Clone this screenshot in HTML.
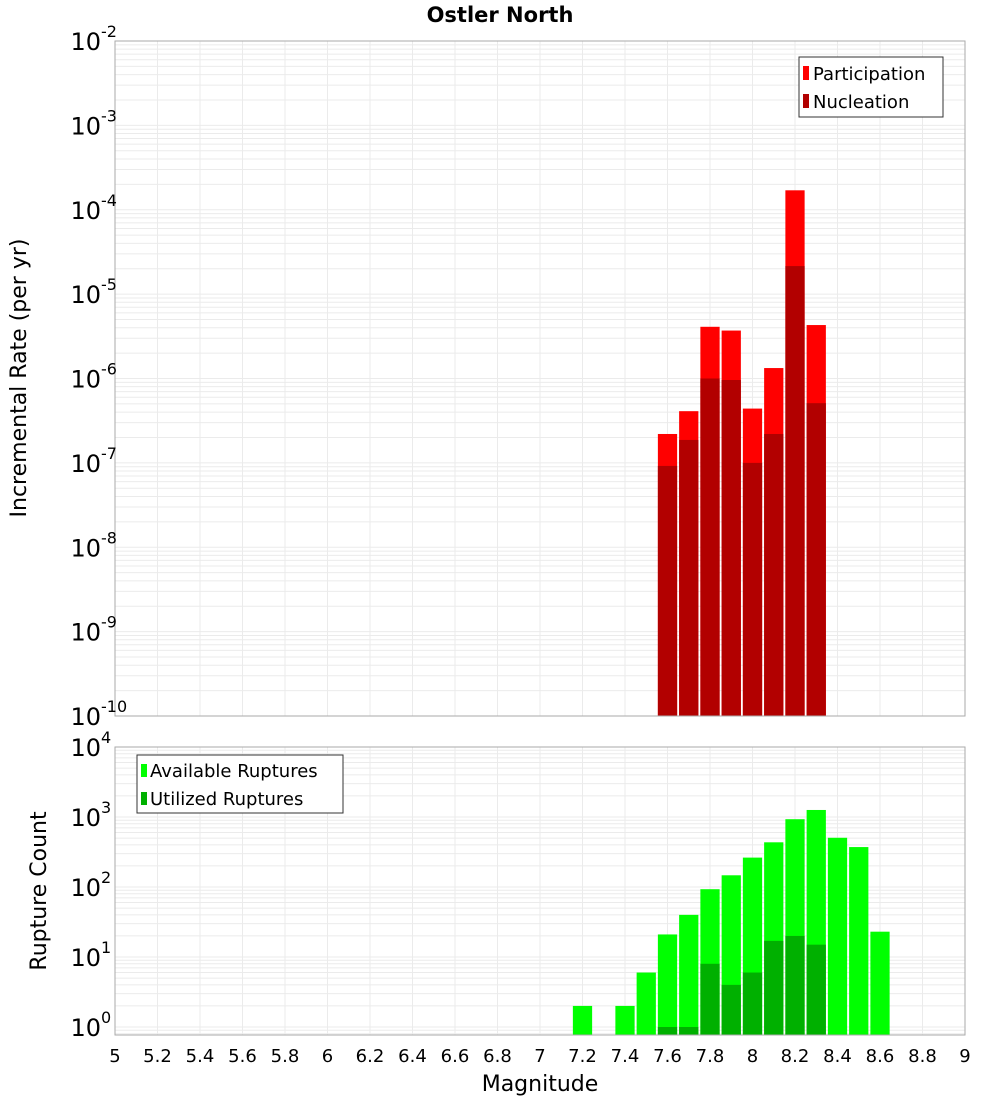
<!DOCTYPE html>
<html><head><meta charset="utf-8"><style>
body{margin:0;background:#fff;}
svg text{font-family:"DejaVu Sans","Liberation Sans",sans-serif;}
</style></head><body>
<svg id="c" width="1000" height="1100" xmlns="http://www.w3.org/2000/svg">
<text x="500" y="22" text-anchor="middle" font-size="21" font-weight="bold">Ostler North</text>
<g id="top"></g>
<g id="bot"></g>
<text transform="translate(26,378) rotate(-90)" text-anchor="middle" font-size="22">Incremental Rate (per yr)</text>
<text transform="translate(46,891) rotate(-90)" text-anchor="middle" font-size="22">Rupture Count</text>
<text x="540" y="1091" text-anchor="middle" font-size="22">Magnitude</text>
<g>
<rect x="799" y="57" width="144" height="60" fill="#fff" stroke="#333"/>
<rect x="803" y="66" width="6" height="14" fill="#ff0000"/>
<text x="813" y="80" font-size="18">Participation</text>
<rect x="803" y="94" width="6" height="14" fill="#b20000"/>
<text x="813" y="108" font-size="18">Nucleation</text>
</g>
<g>
<rect x="137" y="755" width="206" height="58" fill="#fff" stroke="#333"/>
<rect x="141" y="764" width="6" height="13" fill="#00ff00"/>
<text x="150" y="777" font-size="18">Available Ruptures</text>
<rect x="141" y="792" width="6" height="13" fill="#00b000"/>
<text x="150" y="805" font-size="18">Utilized Ruptures</text>
</g>
</svg>
<script>
const mags = [7.6,7.7,7.8,7.9,8.0,8.1,8.2,8.3];
const participation = [2.2e-7,4.1e-7,4.1e-6,3.7e-6,4.4e-7,1.33e-6,1.7e-4,4.3e-6];
const nucleation = [9.2e-8,1.87e-7,1.0e-6,9.6e-7,1.0e-7,2.2e-7,2.15e-5,5.1e-7];
const countMags = [7.2,7.4,7.5,7.6,7.7,7.8,7.9,8.0,8.1,8.2,8.3,8.4,8.5,8.6];
const available = [2,2,6,21,40,93,147,263,435,930,1260,505,372,23];
const utilized = [0,0,0,1,1,8,4,6,17,20,15,0,0,0];
const xTicks = [5,5.2,5.4,5.6,5.8,6,6.2,6.4,6.6,6.8,7,7.2,7.4,7.6,7.8,8,8.2,8.4,8.6,8.8,9];

const NS="http://www.w3.org/2000/svg";
const X0=115,X1=965;
const x=m=>X0+(m-5)/4*(X1-X0);
function mk(p,t,a){const e=document.createElementNS(NS,t);for(const k in a)e.setAttribute(k,a[k]);p.appendChild(e);return e;}
function panel(g,top,bottom,lmin,lmax,vals,cols,mg,ppd,name){
  const y=v=>top+(lmax-Math.log10(v))*ppd;
  mk(g,'rect',{x:X0,y:top,width:X1-X0,height:bottom-top,fill:'#fff'});
  for(let d=Math.floor(lmin);d<lmax;d++)for(let k=1;k<10;k++){const yy=y(k*Math.pow(10,d));if(yy<top||yy>bottom)continue;
    const l=mk(g,'line',{x1:X0,x2:X1,y1:yy,y2:yy,stroke:'#ebebeb','stroke-width':1});
    }
  xTicks.forEach(t=>{const l=mk(g,'line',{x1:x(t),x2:x(t),y1:top,y2:bottom,stroke:'#ebebeb'});
    });
  vals.forEach((arr,si)=>arr.forEach((v,i)=>{if(!(v>0))return;const yt=Math.max(top,y(v));
    const r=mk(g,'rect',{x:x(mg[i]-0.05)+1,y:yt,width:x(0.1+5)-X0-2,height:bottom-yt,fill:cols[si]});
    }));
  mk(g,'rect',{x:X0,y:top,width:X1-X0,height:bottom-top,fill:'none',stroke:'#aaa'});
  for(let d=Math.ceil(lmin);d<=lmax;d++){const yy=y(Math.pow(10,d));
    const t=mk(g,'text',{x:X0-14,y:yy+9,'font-size':24,'text-anchor':'end'});t.textContent='10';
    
    const s=mk(g,'text',{x:X0-14,y:yy-4,'font-size':16});s.textContent=String(d);
    }
}
panel(document.getElementById('top'),41,716,-10,-2,[participation,nucleation],['#ff0000','#b20000'],mags,84.375,'rate');
panel(document.getElementById('bot'),747,1035,-0.11,4,[available,utilized],['#00ff00','#00b000'],countMags,70,'count');
const g=document.getElementById('bot');
xTicks.forEach(t=>{const e=mk(g,'text',{x:x(t),y:1062,'font-size':18,'text-anchor':'middle'});e.textContent=String(t);
  });
</script>
</body></html>
